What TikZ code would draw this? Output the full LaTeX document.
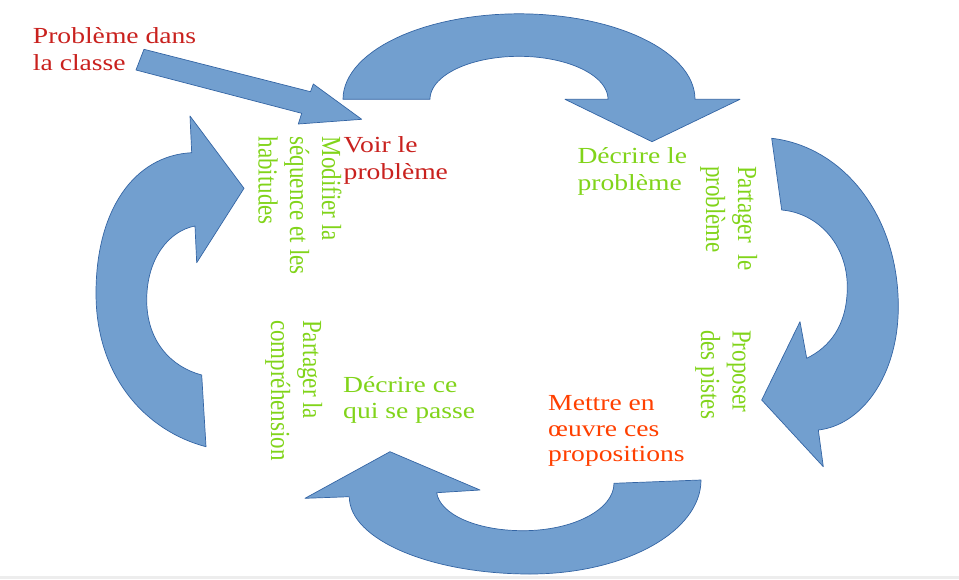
\documentclass[tikz,border=0pt]{standalone}
\usepackage{fontspec}
\setmainfont{Liberation Serif}
\definecolor{shapefill}{HTML}{729FCF}
\definecolor{shapeline}{HTML}{3465A4}
\definecolor{txtred}{HTML}{C9211E}
\definecolor{txtgreen}{HTML}{81D41A}
\definecolor{txtorange}{HTML}{FF4000}
\begin{document}
\begin{tikzpicture}[x=1pt,y=-1pt,
  blockarrow/.style={fill=shapefill, draw=shapeline, line width=0.7pt, line join=round},
  lbl/.style={inner sep=0pt, font=\fontsize{23}{26}\selectfont, xscale=1.2, anchor=base west},
  vlbl/.style={lbl, rotate=-90},
  red/.style={text=txtred},
  green/.style={text=txtgreen},
  orange/.style={text=txtorange}]
\useasboundingbox (0,0) rectangle (959,579);
\fill[white] (0,0) rectangle (959,579);
\fill[black!7] (0,576) rectangle (959,579);

% top curved arrow
\filldraw[blockarrow]
  plot[domain=180:360, samples=60, variable=\t] ({519+176*cos(\t)},{99.3+85.5*sin(\t)})
  -- (740,99.3) -- (652,141.7) -- (565,99.3) -- (608,99.3)
  -- plot[domain=180:360, samples=60, variable=\t] ({519+89*cos(540-\t)},{99.3+43*sin(540-\t)})
  -- cycle;

% right curved arrow
\filldraw[blockarrow]
  (771.7,138.3) .. controls (841.7,146.3) and (898.3,213.7) .. (898.3,306.7)
  .. controls (898.3,374.6) and (862.5,425) .. (818.3,430)
  -- (823.3,466.7) -- (761.7,400) -- (800,321.7) -- (806.7,358.3)
  .. controls (829.1,347.3) and (847.3,326.2) .. (847.3,286.7)
  .. controls (847.3,244.4) and (817.9,213) .. (781.7,210)
  -- cycle;

% bottom curved arrow
\filldraw[blockarrow]
  (701,480) .. controls (701,531.9) and (624.4,574) .. (530,574)
  .. controls (430.3,574) and (349.3,539.4) .. (349.3,496.7)
  -- (305,498.3) -- (390,451.7) -- (480,490) -- (436.7,492.7)
  .. controls (439.7,513.7) and (475.4,530.7) .. (523,530.7)
  .. controls (573.2,530.7) and (614,509.5) .. (614,483.3)
  -- cycle;

% left curved arrow
\filldraw[blockarrow]
  (191.7,152.7) .. controls (134,155.7) and (96,210) .. (96,293.3)
  .. controls (96,378) and (147.2,431.4) .. (206,446.7)
  -- (201.7,375)
  .. controls (171.3,367) and (146.7,341.4) .. (146.7,300)
  .. controls (146.7,259.2) and (168.3,231) .. (195,226)
  -- (196.7,262.7) -- (244,188.3) -- (190,116)
  -- cycle;

% straight arrow into the cycle
\filldraw[blockarrow]
  (144,49.3) -- (310.5,91.7) -- (313.3,84) -- (361.7,119.3) -- (298.3,124)
  -- (301.7,113.3) -- (136,70) -- cycle;

% horizontal labels
\node[lbl, red] (start1) at (32.7,43.3) {Problème dans};
\node[lbl, red] (start2) at (32.7,70.5) {la classe};
\node[lbl, red] (see1) at (343.5,152.7) {Voir le};
\node[lbl, red] (see2) at (343.5,179) {problème};
\node[lbl, green] (desc1) at (577.3,163.3) {Décrire le};
\node[lbl, green] (desc2) at (577.3,190) {problème};
\node[lbl, green] (what1) at (343,392.7) {Décrire ce};
\node[lbl, green] (what2) at (343,418.3) {qui se passe};
\node[lbl, orange] (do1) at (548,410) {Mettre en};
\node[lbl, orange] (do2) at (548,436.5) {œuvre ces};
\node[lbl, orange] (do3) at (548,461.7) {propositions};

% vertical labels
\node[vlbl, green] (mod1) at (322,136.5) {Modifier la};
\node[vlbl, green] (mod2) at (290,136.5) {séquence et les};
\node[vlbl, green] (mod3) at (258.5,136.5) {habitudes};
\node[vlbl, green] (share1) at (738,166) {Partager\ \ le};
\node[vlbl, green] (share2) at (706,166) {problème};
\node[vlbl, green] (prop1) at (732.5,330) {Proposer};
\node[vlbl, green] (prop2) at (701,330) {des pistes};
\node[vlbl, green] (und1) at (303,320) {Partager la};
\node[vlbl, green] (und2) at (271,320) {compréhension};
\end{tikzpicture}
\end{document}
